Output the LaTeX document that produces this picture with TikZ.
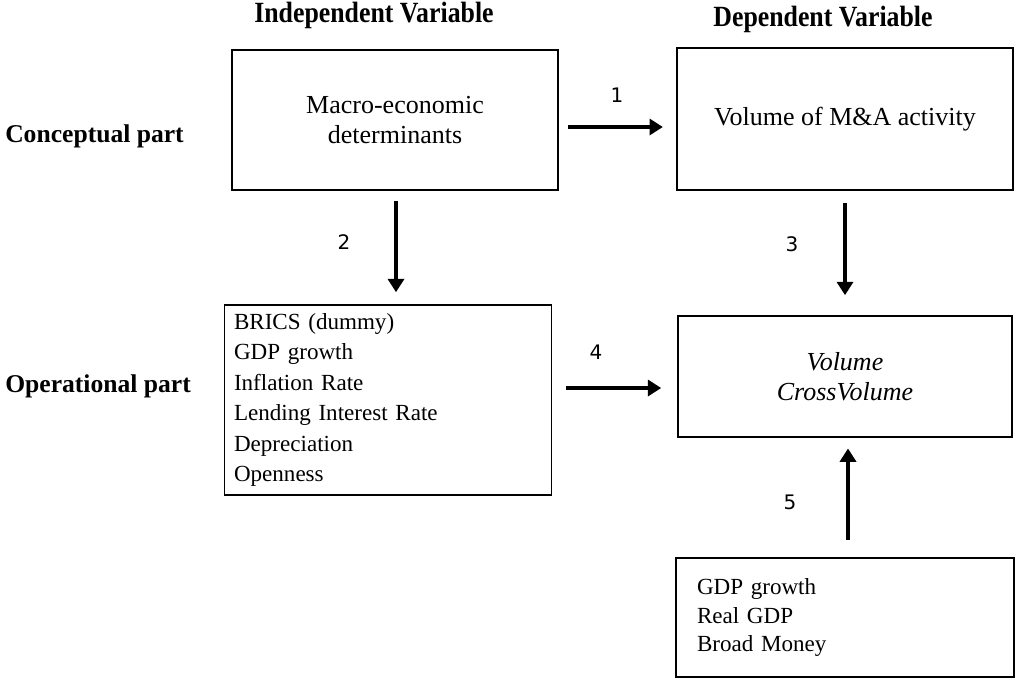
\documentclass[tikz,border=0pt]{standalone}
\usepackage{fontspec}
\setmainfont{Liberation Serif}
\newfontfamily\numfont{DejaVu Sans}
\newfontfamily\headfont[FakeStretch=0.88]{Liberation Serif}
\usetikzlibrary{arrows.meta}

\tikzset{
    box/.style={draw, line width=1.2pt, inner sep=0pt, font=\fontsize{19.5}{22.5}\selectfont},
    listbox/.style={box, align=left, font=\fontsize{17.3}{22.8}\selectfont},
    flow/.style={-{Triangle[length=10pt,width=12pt]}, line width=3pt},
    num/.style={font=\numfont\fontsize{15}{17}\selectfont},
    head/.style={font=\headfont\bfseries\fontsize{22}{24}\selectfont},
    side/.style={font=\bfseries\fontsize{19.2}{22}\selectfont, anchor=west, inner sep=0pt}
}

\begin{document}
\begin{tikzpicture}[x=0.75pt, y=-0.75pt]
    \useasboundingbox (0,0) rectangle (1016,679);

    \node[head] (indep) at (374,15) {Independent Variable};
    \node[head] (dep) at (823,19) {Dependent Variable};
    \node[side] (concept) at (5,136) {Conceptual part};
    \node[side] (oper) at (5,386) {Operational part};

    \node[box, minimum width=326*0.75pt, minimum height=140*0.75pt, align=center] (macro) at (395,120)
        {Macro-economic\\determinants};
    \node[box, minimum width=336*0.75pt, minimum height=142*0.75pt, align=center] (vol) at (845,119)
        {Volume of M\&A activity};
    \node[listbox, minimum width=327*0.75pt, minimum height=190*0.75pt, text width=308*0.75pt] (list) at (388,400)
        {BRICS (dummy)\\GDP growth\\Inflation Rate\\Lending Interest Rate\\Depreciation\\Openness};
    \node[box, minimum width=334*0.75pt, minimum height=121*0.75pt, align=center] (cross) at (845,376.5)
        {\itshape Volume\\\itshape CrossVolume};
    \node[listbox, minimum width=338*0.75pt, minimum height=119*0.75pt, text width=296*0.75pt,
        font=\fontsize{17.3}{21.4}\selectfont] (ctrl) at (845,617.5)
        {GDP growth\\Real GDP\\Broad Money};

    \draw[flow, shorten <=7pt, shorten >=10pt] (macro.east |- 0,127) -- (vol.west |- 0,127);
    \draw[flow, shorten <=8pt, shorten >=9pt] (396,190) -- (list.north -| 396,0);
    \draw[flow, shorten <=9pt, shorten >=15pt] (vol.south) -- (cross.north);
    \draw[flow, shorten <=10pt, shorten >=12pt] (list.east |- 0,388) -- (cross.west |- 0,388);
    \draw[flow, shorten <=13pt, shorten >=8pt] (ctrl.north -| 848,0) -- (cross.south -| 848,0);

    \node[num] (n1) at (617,95) {1};
    \node[num] (n2) at (344,242) {2};
    \node[num] (n3) at (792,244) {3};
    \node[num] (n4) at (596,352) {4};
    \node[num] (n5) at (790,502) {5};
\end{tikzpicture}
\end{document}
